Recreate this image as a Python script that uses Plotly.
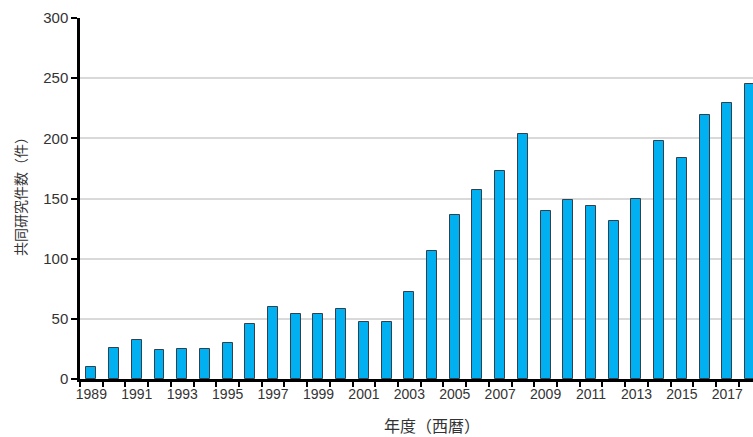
import plotly.graph_objects as go

years = list(range(1989, 2019))
counts = [10, 26, 32, 24, 25, 25, 30, 46, 60, 54,
          54, 58, 47, 47, 72, 106, 136, 157, 173, 204,
          140, 149, 144, 131, 150, 198, 184, 219, 229, 245]

label_years = [y for y in years if y % 2 == 1]
boundaries = [y - 0.5 for y in years] + [years[-1] + 0.5]

fig = go.Figure(
    go.Bar(
        x=years,
        y=counts,
        width=0.44,
        marker=dict(color="#00B0F0", line=dict(color="#34404c", width=1)),
    )
)

W, H = 753, 437
L, R, T, B = 80, 0, 18, 58
plot_w = W - L - R
plot_h = H - T - B

fig.update_layout(
    width=W,
    height=H,
    margin=dict(l=L, r=R, t=T, b=B),
    paper_bgcolor="white",
    plot_bgcolor="white",
    showlegend=False,
    font=dict(family="Liberation Sans, Arial, sans-serif", color="#333333"),
    bargap=0,
)

fig.update_xaxes(
    range=[1988.5, 2018.13],
    tickmode="array",
    tickvals=label_years,
    ticktext=[str(y) for y in label_years],
    ticks="",
    tickfont=dict(size=14, color="#333333"),
    showgrid=False,
    zeroline=False,
    showline=True,
    linecolor="black",
    linewidth=2.5,
    minor=dict(tickmode="array", tickvals=boundaries, ticks="outside",
               ticklen=5, tickwidth=2, tickcolor="black", showgrid=False),
)

fig.update_yaxes(
    range=[0, 300],
    tickvals=[0, 50, 100, 150, 200, 250, 300],
    ticks="outside",
    ticklen=6,
    tickwidth=2,
    tickcolor="black",
    tickfont=dict(size=15, color="#333333"),
    showgrid=True,
    gridcolor="#d9d9d9",
    gridwidth=1.5,
    zeroline=False,
    showline=True,
    linecolor="black",
    linewidth=2.5,
)

fig.add_annotation(
    text="年度（西暦）",
    xref="paper", yref="paper",
    x=(432 - L) / plot_w, y=-(425 - (H - B)) / plot_h,
    xanchor="center", yanchor="middle",
    showarrow=False,
    font=dict(family="Noto Sans CJK JP", size=16, color="#333333"),
)

fig.add_annotation(
    text="共同研究件数（件）",
    xref="paper", yref="paper",
    x=(20 - L) / plot_w, y=((H - B) - 193) / plot_h,
    xanchor="center", yanchor="middle",
    textangle=-90,
    showarrow=False,
    font=dict(family="Noto Sans CJK JP", size=14, color="#333333"),
)

fig.write_html("out.html")
